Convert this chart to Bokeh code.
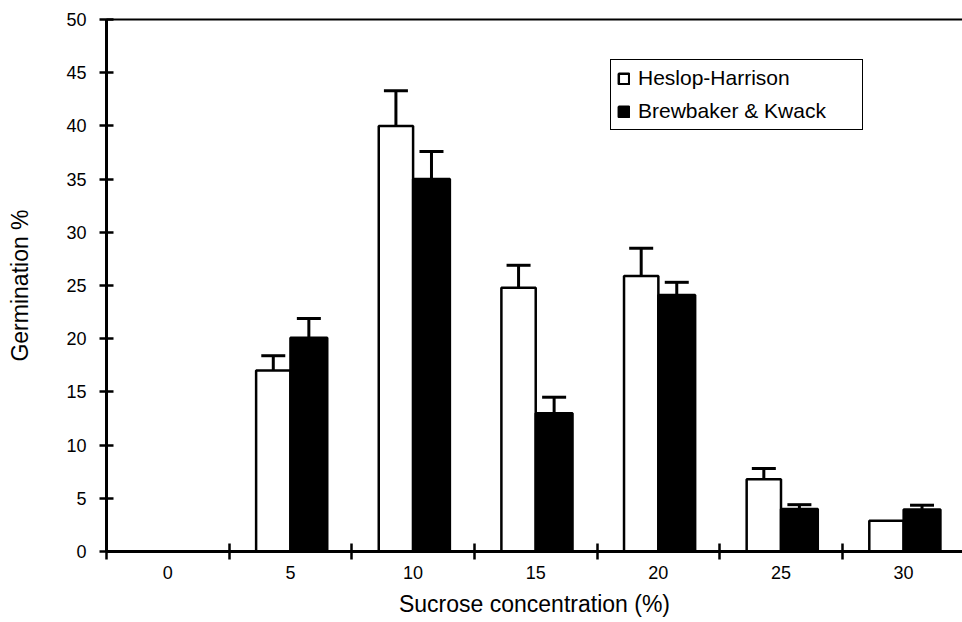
import numpy as np
from bokeh.plotting import figure
from bokeh.models import (ColumnDataSource, Range1d, FixedTicker, LinearAxis, Whisker,
                          TeeHead, Legend, LegendItem)
from bokeh.transform import dodge
from bokeh.embed import file_html
from bokeh.resources import INLINE

# ---- data ----
categories = [0, 5, 10, 15, 20, 25, 30]
heslop = [0, 17, 40, 24.8, 25.9, 6.8, 2.9]
heslop_err = [np.nan, 18.4, 43.3, 26.9, 28.5, 7.8, np.nan]
brewbaker = [0, 20.1, 35, 13, 24.1, 4, 3.95]
brewbaker_err = [np.nan, 21.9, 37.6, 14.5, 25.3, 4.4, 4.35]
y_ticks = [0, 5, 10, 15, 20, 25, 30, 35, 40, 45, 50]

FONT = "Liberation Sans"
pos = list(range(len(categories)))

src = ColumnDataSource(dict(x=pos, h=heslop, b=brewbaker))

def err_source(vals, errs):
    idx = [i for i in pos if not np.isnan(errs[i])]
    return ColumnDataSource(dict(x=idx, v=[vals[i] for i in idx], e=[errs[i] for i in idx]))

hs = err_source(heslop, heslop_err)
bs = err_source(brewbaker, brewbaker_err)

p = figure(width=962, height=622, x_range=Range1d(-0.5, 6.48), y_range=Range1d(0, 50),
           output_backend="svg", toolbar_location=None,
           min_border_left=106, min_border_right=0, min_border_top=19, min_border_bottom=71,
           x_axis_location=None, y_axis_location=None)
p.grid.visible = False
p.outline_line_color = None
p.background_fill_color = "white"
p.border_fill_color = "white"

WW, BW = 0.28, 0.30
r_h = p.vbar(x=dodge("x", -WW / 2, range=p.x_range), top="h", bottom=0, width=WW, source=src,
             fill_color="white", line_color="black", line_width=2.5)
r_b = p.vbar(x=dodge("x", BW / 2, range=p.x_range), top="b", bottom=0, width=BW, source=src,
             fill_color="black", line_color="black", line_width=2.5)

for s, off in ((hs, -WW / 2), (bs, BW / 2)):
    w = Whisker(source=s, base=dodge("x", off, range=p.x_range), lower="v", upper="e",
                dimension="height", line_color="black", line_width=3,
                lower_head=None,
                upper_head=TeeHead(size=24, line_color="black", line_width=3))
    p.add_layout(w)

# y axis
yax = LinearAxis(ticker=FixedTicker(ticks=y_ticks), axis_label="Germination %")
yax.axis_line_width = 3
yax.major_tick_in = 7
yax.major_tick_out = 7
yax.major_tick_line_width = 2.5
yax.minor_tick_line_color = None
yax.major_label_text_font = FONT
yax.major_label_text_font_size = "18px"
yax.major_label_text_color = "black"
yax.major_label_standoff = 13
yax.axis_label_text_font = FONT
yax.axis_label_text_font_size = "23px"
yax.axis_label_text_font_style = "normal"
yax.axis_label_text_color = "black"
yax.axis_label_standoff = 30
p.add_layout(yax, "left")

# x axis
xax = LinearAxis(ticker=FixedTicker(ticks=pos, minor_ticks=[i - 0.5 for i in pos]),
                 axis_label="Sucrose concentration (%)")
xax.major_label_overrides = {i: str(c) for i, c in zip(pos, categories)}
xax.axis_line_width = 3
xax.major_tick_line_color = None
xax.major_tick_in = 0
xax.major_tick_out = 8
xax.minor_tick_in = 8
xax.minor_tick_out = 8
xax.minor_tick_line_width = 2.5
xax.minor_tick_line_color = "black"
xax.major_label_text_font = FONT
xax.major_label_text_font_size = "18px"
xax.major_label_text_color = "black"
xax.major_label_standoff = 6
xax.axis_label_text_font = FONT
xax.axis_label_text_font_size = "23px"
xax.axis_label_text_font_style = "normal"
xax.axis_label_text_color = "black"
xax.axis_label_standoff = 9
p.add_layout(xax, "below")

# top border line
tax = LinearAxis(ticker=FixedTicker(ticks=[]))
tax.axis_line_width = 2
tax.major_tick_line_color = None
tax.minor_tick_line_color = None
tax.major_label_text_font_size = "0px"
p.add_layout(tax, "above")

legend = Legend(items=[LegendItem(label="Heslop-Harrison", renderers=[r_h]),
                       LegendItem(label="Brewbaker & Kwack", renderers=[r_b])],
                location=(504, 421))
legend.label_text_font = FONT
legend.label_text_font_size = "21px"
legend.label_text_color = "black"
legend.label_width = 218
legend.glyph_width = 13
legend.glyph_height = 13
legend.label_standoff = 8
legend.padding = 6
legend.spacing = 9
legend.margin = 0
legend.border_line_color = "black"
legend.border_line_alpha = 1
legend.border_line_width = 1.5
legend.background_fill_alpha = 1
p.add_layout(legend, "center")

open("out.html", "w").write(file_html(p, INLINE))
